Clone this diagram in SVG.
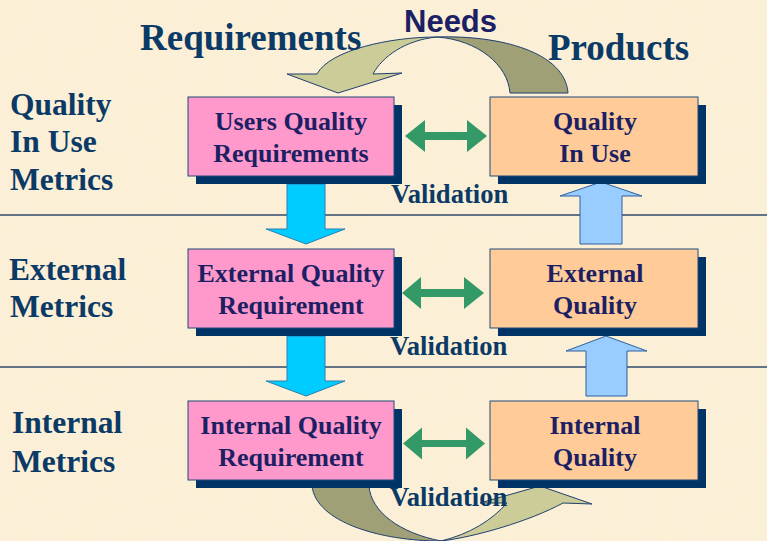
<svg xmlns="http://www.w3.org/2000/svg" width="767" height="541" viewBox="0 0 767 541">
  <defs>
    <filter id="paper" x="0" y="0" width="100%" height="100%">
      <feTurbulence type="fractalNoise" baseFrequency="0.04" numOctaves="3" seed="4" result="n"/>
      <feColorMatrix in="n" type="matrix" values="0 0 0 0 0.93  0 0 0 0 0.86  0 0 0 0 0.70  0 0 0 0.35 0" result="c"/>
      <feComposite in="c" in2="SourceGraphic" operator="in"/>
    </filter>
    <style>
      .lbl { font-family: "Liberation Serif", "Times New Roman", serif; font-weight: bold; fill: #0B3A66; }
      .side { font-size: 31.5px; }
      .big { font-size: 37px; }
      .btxt { font-family: "Liberation Serif", "Times New Roman", serif; font-weight: bold; font-size: 26px; fill: #1C1F63; text-anchor: middle; }
      .val { font-family: "Liberation Serif", "Times New Roman", serif; font-weight: bold; font-size: 26.6px; fill: #0B3A66; }
      .shadow { fill: #003366; }
      .pink { fill: #FF99CC; stroke: #1F4A7A; stroke-width: 1; }
      .orange { fill: #FFCC99; stroke: #1F4A7A; stroke-width: 1; }
      .green { fill: #339966; }
      .down { fill: #00CCFF; stroke: #2A7FB0; stroke-width: 1; }
      .up { fill: #99CCFF; stroke: #2F5FA0; stroke-width: 1; }
      .light { fill: #CCCC99; stroke: #1F3F6F; stroke-width: 1; }
      .dark { fill: #A0A077; stroke: #1F3F6F; stroke-width: 1; }
      .rule { stroke: #2E4A6A; stroke-width: 1.5; }
    </style>
  </defs>

  <rect x="0" y="0" width="767" height="541" fill="#FCF0D6"/>
  <rect x="0" y="0" width="767" height="541" fill="#FCF0D6" filter="url(#paper)"/>

  <g id="rules">
    <line class="rule" x1="0" y1="215" x2="767" y2="215"/>
    <line class="rule" x1="0" y1="367" x2="767" y2="367"/>
  </g>

  <g id="connectors">
    <!-- top curved arrow (Needs) -->
    <path class="dark" d="M437,37 C500,35 565,52 568,93 L510,93 C508,65 478,40 437,37 Z"/>
    <path class="light" d="M437,37 C390,37 330,50 317,74 L287,74 L338,93 L402,73 L373,74 C382,57 405,40 437,37 Z"/>
    <!-- bottom curved arrow -->
    <path class="dark" d="M312,486 L369,486 C371,512 400,533 441,541 C380,541 316,522 312,486 Z"/>
    <path class="light" d="M441,541 C475,537 530,521 563,503 L592,504 L540,486 L480,503 L507,503 C492,520 470,534 441,541 Z"/>
    <!-- down arrows -->
    <path class="down" d="M287,184 L325,184 L325,229 L345,229 L306,244 L266,229 L287,229 Z"/>
    <path class="down" d="M287,336 L325,336 L325,381 L345,381 L306,396 L266,381 L287,381 Z"/>
    <!-- up arrows -->
    <path class="up" d="M580,244 L622,244 L622,196 L642,196 L601,182 L560,196 L580,196 Z"/>
    <path class="up" d="M586,396 L627,396 L627,351 L647,351 L606,336 L566,351 L586,351 Z"/>
    <!-- green double arrows -->
    <path class="green" d="M405,136 L425,120 L425,132 L467,132 L467,120 L487,136 L467,152 L467,140 L425,140 L425,152 Z"/>
    <path class="green" d="M402,293 L421,277 L421,289 L464,289 L464,277 L484,293 L464,309 L464,297 L421,297 L421,309 Z"/>
    <path class="green" d="M403,443.5 L422,427.5 L422,440 L466,440 L466,427.5 L485,443.5 L466,459.5 L466,447 L422,447 L422,459.5 Z"/>
  </g>

  <g id="users-quality-requirements">
    <rect class="shadow" x="196" y="105" width="206" height="79"/>
    <rect class="pink" x="188" y="97" width="206" height="79"/>
    <text class="btxt" x="291" y="130">Users Quality</text>
    <text class="btxt" x="291" y="162">Requirements</text>
  </g>
  <g id="quality-in-use">
    <rect class="shadow" x="498" y="105" width="208" height="79"/>
    <rect class="orange" x="490" y="97" width="208" height="79"/>
    <text class="btxt" x="595" y="130">Quality</text>
    <text class="btxt" x="595" y="162">In Use</text>
  </g>
  <g id="external-quality-requirement">
    <rect class="shadow" x="196" y="257" width="206" height="79"/>
    <rect class="pink" x="188" y="249" width="206" height="79"/>
    <text class="btxt" x="291" y="282">External Quality</text>
    <text class="btxt" x="291" y="314">Requirement</text>
  </g>
  <g id="external-quality">
    <rect class="shadow" x="498" y="257" width="208" height="79"/>
    <rect class="orange" x="490" y="249" width="208" height="79"/>
    <text class="btxt" x="595" y="282">External</text>
    <text class="btxt" x="595" y="314">Quality</text>
  </g>
  <g id="internal-quality-requirement">
    <rect class="shadow" x="196" y="409" width="206" height="79"/>
    <rect class="pink" x="188" y="401" width="206" height="79"/>
    <text class="btxt" x="291" y="434">Internal Quality</text>
    <text class="btxt" x="291" y="466">Requirement</text>
  </g>
  <g id="internal-quality">
    <rect class="shadow" x="498" y="409" width="208" height="79"/>
    <rect class="orange" x="490" y="401" width="208" height="79"/>
    <text class="btxt" x="595" y="434">Internal</text>
    <text class="btxt" x="595" y="466">Quality</text>
  </g>

  <g id="labels">
    <text class="lbl big" x="140" y="50">Requirements</text>
    <text class="lbl big" x="548" y="60">Products</text>
    <text x="404" y="32" font-family="'Liberation Sans', Arial, sans-serif" font-weight="bold" font-size="31" fill="#1C1F63">Needs</text>
    <text class="lbl side" x="10" y="115">Quality</text>
    <text class="lbl side" x="10" y="152">In Use</text>
    <text class="lbl side" x="10" y="190">Metrics</text>
    <text class="lbl side" x="9" y="280">External</text>
    <text class="lbl side" x="10" y="317">Metrics</text>
    <text class="lbl side" x="12" y="433">Internal</text>
    <text class="lbl side" x="12" y="472">Metrics</text>
    <text class="val" x="391" y="203">Validation</text>
    <text class="val" x="390" y="355">Validation</text>
    <text class="val" x="390" y="506">Validation</text>
  </g>
</svg>
